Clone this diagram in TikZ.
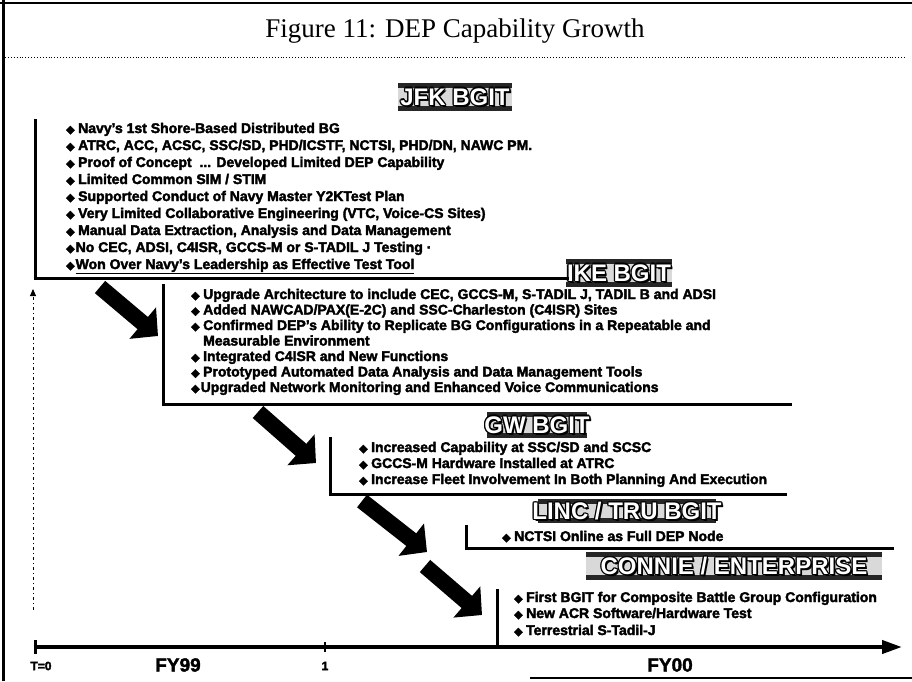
\documentclass[tikz,border=0pt]{standalone}
\usepackage{fontspec}
\setmainfont{Liberation Sans}
\newfontfamily\titlefont{Liberation Serif}
\newfontfamily\symfont{DejaVu Sans}
\usetikzlibrary{arrows.meta}
\newcommand\dia{{\symfont\fontsize{11}{11}\selectfont ◆}\hspace{3.5pt}}
\newcommand\diatight{{\symfont\fontsize{11}{11}\selectfont ◆}\hspace{1pt}}
\newcommand\bannerbox[6]{%
  \fill[black!15] ({#2-#4},{#3-#5}) rectangle ({#2+#4},{#3+#5});
  \fill[black!85] ({#2-#4},{#3-#5}) rectangle ({#2+#4},{#3-#5+5});
  \fill[black!85] ({#2-#4},{#3+#5-5}) rectangle ({#2+#4},{#3+#5});
  \foreach \dx/\dy in {-1.3/0,1.3/0,0/-1.3,0/1.3,-0.9/-0.9,0.9/0.9,-0.9/0.9,0.9/-0.9,1.8/1.8}
    {\node[bnr] at ({#2+\dx},{#3+\dy}) {#6};}
  \node[bnr,text=white] (#1) at (#2,#3) {#6};
}
\begin{document}
\begin{tikzpicture}[x=1pt,y=-1pt,
  heavy/.style={execute at begin node={\special{pdf:literal direct 2 Tr 0.35 w 0 0 0 RG}},
                execute at end node={\special{pdf:literal direct 0 Tr}}},
  bul/.style={anchor=base west, inner sep=0pt, font=\bfseries\fontsize{14}{16}\selectfont, heavy},
  bnr/.style={inner sep=0pt, text=black, font=\bfseries\fontsize{24}{24}\selectfont},
  brk/.style={line width=3pt, line cap=rect},
  blk/.style={line width=16pt, -{Triangle[length=20pt,width=40pt]}},
  fy/.style={font=\bfseries\fontsize{19}{19}\selectfont, inner sep=0pt, heavy},
  sm/.style={font=\bfseries\fontsize{12}{12}\selectfont, inner sep=0pt, heavy}]
\useasboundingbox (0,0) rectangle (912,681);
\fill[white] (0,0) rectangle (912,681);
% frame
\coordinate (fl1) at (3,0); \coordinate (fl2) at (3,681);
\coordinate (ft1) at (0,3); \coordinate (ft2) at (912,3);
\coordinate (fb1) at (530,678); \coordinate (fb2) at (912,678);
\coordinate (dl1) at (5,57); \coordinate (dl2) at (905,57);
\draw[line width=3pt] (fl1) -- (fl2);
\draw[line width=2pt] (ft1) -- (ft2);
\draw[line width=1.5pt] (fb1) -- (fb2);
\draw[dotted, line width=0.9pt] (dl1) -- (dl2);
% title
\node[font=\titlefont\fontsize{27}{27}\selectfont, inner sep=0pt] (title) at (455,31) {Figure 11: DEP Capability Growth};
% banners
\bannerbox{bj}{455}{97}{57}{14}{JFK BGIT}
\bannerbox{bi}{619}{273}{53}{14}{IKE BGIT}
\bannerbox{bg}{537}{425}{50}{13}{GW BGIT}
\bannerbox{bl}{627}{511}{89}{12}{LINC / TRU BGIT}
\bannerbox{bc}{734}{566}{148}{14}{CONNIE / ENTERPRISE}
% brackets
\draw[brk] (35,120) -- (35,278) -- (567,278);
\draw[brk] (163,285) -- (163,404) -- (790,404);
\draw[brk] (330,438) -- (330,494) -- (785,494);
\draw[brk] (466,526) -- (466,548) -- (892,548);
\draw[brk] (497,590) -- (497,647);
% JFK bullets
\node[bul] (j1) at (66,133) {\dia Navy's 1st Shore-Based Distributed BG};
\node[bul] (j2) at (66,150) {\dia ATRC, ACC, ACSC, SSC/SD, PHD/ICSTF, NCTSI, PHD/DN, NAWC PM.};
\node[bul] (j3) at (66,167) {\dia Proof of Concept \ ... Developed Limited DEP Capability};
\node[bul] (j4) at (66,184) {\dia Limited Common SIM / STIM};
\node[bul] (j5) at (66,201) {\dia Supported Conduct of Navy Master Y2KTest Plan};
\node[bul] (j6) at (66,218) {\dia Very Limited Collaborative Engineering (VTC, Voice-CS Sites)};
\node[bul] (j7) at (66,235) {\dia Manual Data Extraction, Analysis and Data Management};
\node[bul] (j8) at (66,252) {\diatight No CEC, ADSI, C4ISR, GCCS-M or S-TADIL J Testing ·};
\node[bul] (j9) at (66,269) {\diatight\underline{Won Over Navy's Leadership as Effective Test Tool}};
% IKE bullets
\node[bul] (i1) at (191,299) {\dia Upgrade Architecture to include CEC, GCCS-M, S-TADIL J, TADIL B and ADSI};
\node[bul] (i2) at (191,314.5) {\dia Added NAWCAD/PAX(E-2C) and SSC-Charleston (C4ISR) Sites};
\node[bul] (i3) at (191,330) {\dia Confirmed DEP's Ability to Replicate BG Configurations in a Repeatable and};
\node[bul] (i3b) at (191,345.5) {\phantom{\dia}Measurable Environment};
\node[bul] (i4) at (191,361) {\dia Integrated C4ISR and New Functions};
\node[bul] (i5) at (191,376.5) {\dia Prototyped Automated Data Analysis and Data Management Tools};
\node[bul] (i6) at (191,392) {\diatight Upgraded Network Monitoring and Enhanced Voice Communications};
% GW bullets
\node[bul] (g1) at (359,452) {\dia Increased Capability at SSC/SD and SCSC};
\node[bul] (g2) at (359,468) {\dia GCCS-M Hardware Installed at ATRC};
\node[bul] (g3) at (359,484) {\dia Increase Fleet Involvement In Both Planning And Execution};
% LINC bullet
\node[bul] (l1) at (502,541) {\dia NCTSI Online as Full DEP Node};
% CONNIE bullets
\node[bul] (c1) at (514,602) {\dia First BGIT for Composite Battle Group Configuration};
\node[bul] (c2) at (514,618) {\dia New ACR Software/Hardware Test};
\node[bul] (c3) at (514,635) {\dia Terrestrial S-Tadil-J};
% block arrows
\coordinate (a1s) at (100,287); \coordinate (a1e) at (158,336);
\coordinate (a2s) at (258,412); \coordinate (a2e) at (316,463);
\coordinate (a3s) at (362,501); \coordinate (a3e) at (427,552);
\coordinate (a4s) at (425,566); \coordinate (a4e) at (482,615);
\draw[blk] (a1s) -- (a1e);
\draw[blk] (a2s) -- (a2e);
\draw[blk] (a3s) -- (a3e);
\draw[blk] (a4s) -- (a4e);
% time axis
\coordinate (ax0) at (35,647); \coordinate (ax1) at (902,647);
\draw[line width=4pt, -{Triangle[length=20pt,width=13pt]}] (ax0) -- (ax1);
\draw[line width=3pt] (35,640) -- (35,654);
\draw[line width=2.5pt] (325,642) -- (325,652);
\coordinate (va0) at (33,610); \coordinate (va1) at (33,289);
\draw[line width=0.9pt, dash pattern=on 3pt off 3pt on 1pt off 3pt, -{Triangle[length=7pt,width=6pt]}] (va0) -- (va1);
\node[sm] (t0) at (41,666) {T=0};
\node[sm] (one) at (325,666) {1};
\node[fy] (fy99) at (178,665) {FY99};
\node[fy] (fy00) at (670,665) {FY00};
\end{tikzpicture}
\end{document}
